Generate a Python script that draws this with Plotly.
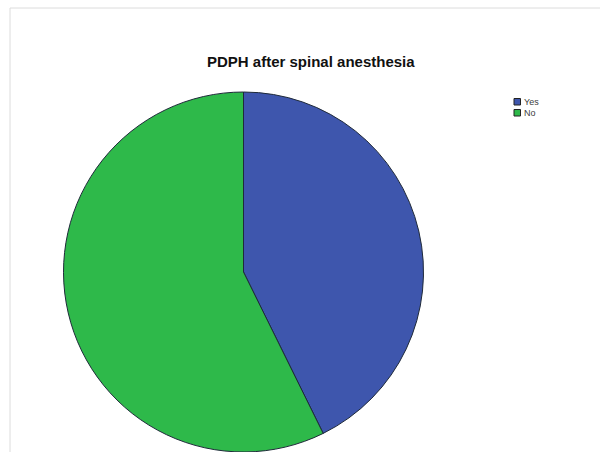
import plotly.graph_objects as go

labels = ["Yes", "No"]
values = [42.7, 57.3]
colors = ["#3e56ad", "#2eb94a"]
title_text = "PDPH after spinal anesthesia"

W, H = 600, 452
cx, cy, r = 243.5, 273.0, 181.0

fig = go.Figure()
fig.add_trace(go.Pie(
    labels=labels, values=values, sort=False, direction="clockwise", rotation=0,
    marker=dict(colors=colors, line=dict(color="#1f2a3a", width=1)),
    textinfo="none", showlegend=False,
    domain=dict(x=[(cx - r) / W, (cx + r) / W], y=[max(0, (H - cy - r) / H), min(1, (H - cy + r) / H)]),
))

# legend drawn as small swatches + labels (SPSS style)
lx, ly0, sw, step = 514, 98.5, 6.5, 11
shapes = [
    dict(type="line", xref="paper", yref="paper", x0=10 / W, x1=10 / W, y0=0, y1=1 - 8 / H,
         line=dict(color="#dcdcdc", width=1)),
    dict(type="line", xref="paper", yref="paper", x0=10 / W, x1=1, y0=1 - 8 / H, y1=1 - 8 / H,
         line=dict(color="#dcdcdc", width=1)),
]
annotations = [
    dict(text="<b>" + title_text + "</b>", x=311 / W, y=1 - 62 / H, xref="paper", yref="paper",
         xanchor="center", yanchor="middle", showarrow=False,
         font=dict(size=15, family="Liberation Sans, Arial", color="#111111")),
]
for i, (lab, col) in enumerate(zip(labels, colors)):
    y0 = ly0 + i * step
    shapes.append(dict(type="rect", xref="paper", yref="paper",
                       x0=lx / W, x1=(lx + sw) / W, y0=1 - (y0 + sw) / H, y1=1 - y0 / H,
                       fillcolor=col, line=dict(color="#222222", width=1)))
    annotations.append(dict(text=lab, x=(lx + sw + 1) / W, y=1 - (y0 + sw / 2) / H,
                            xref="paper", yref="paper", xanchor="left", yanchor="middle",
                            showarrow=False,
                            font=dict(size=9, family="Liberation Sans, Arial", color="#404040")))

fig.update_layout(
    width=W, height=H, margin=dict(l=0, r=0, t=0, b=0),
    paper_bgcolor="white", plot_bgcolor="white",
    font=dict(family="Liberation Sans, Arial", color="#000000"),
    annotations=annotations, shapes=shapes,
)

fig.write_html("out.html", config={"displayModeBar": False},
               post_script="document.body.style.margin='0px';")
